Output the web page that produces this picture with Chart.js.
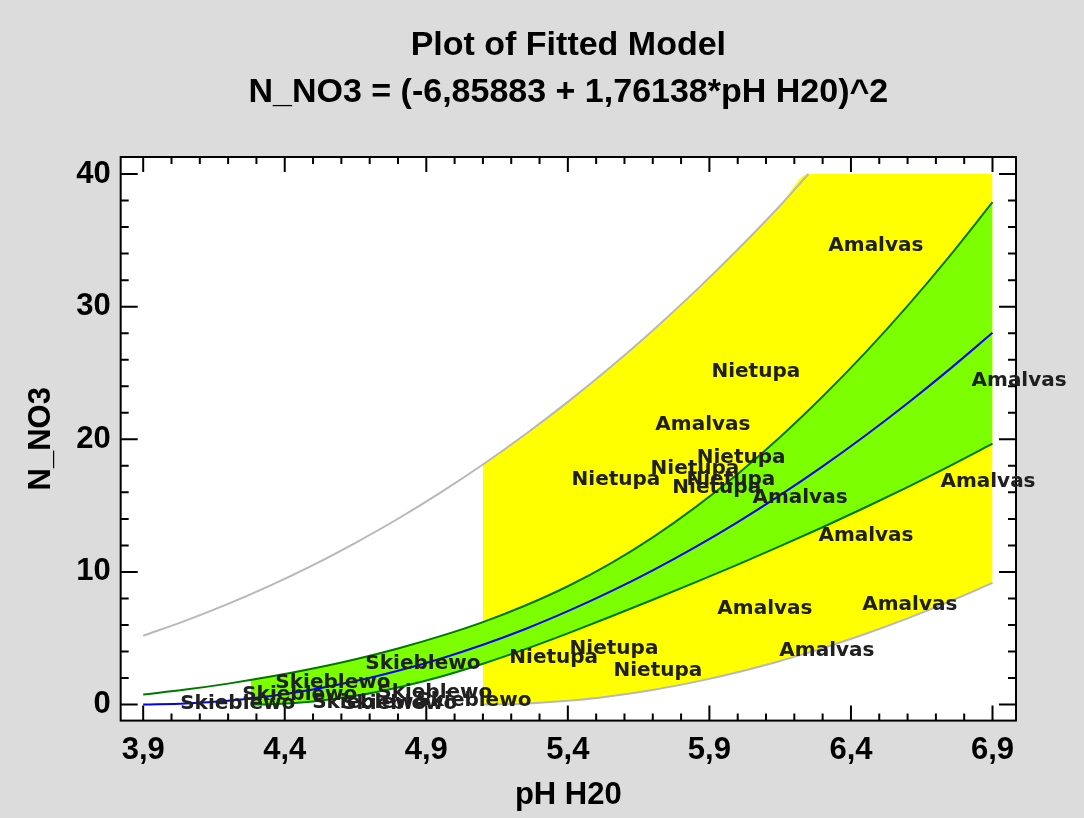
<!DOCTYPE html>
<html lang="en">
<head>
  <meta charset="utf-8">
  <title>Plot of Fitted Model</title>
  <script src="https://cdn.jsdelivr.net/npm/chart.js@4.4.1/dist/chart.umd.min.js"></script>
  <style>
    body { margin: 0; background: #dcdcdc; }
    canvas { display: block; }
  </style>
</head>
<body>
<canvas id="myChart" width="1084" height="818"></canvas>
<script>
// Titles and axis labels
let titleLines = ['Plot of Fitted Model', 'N_NO3 = (-6,85883 + 1,76138*pH H20)^2'];
let xTitle = 'pH H20';
let yTitle = 'N_NO3';

// Tick values and their labels
let xTickValues = [3.9, 4.4, 4.9, 5.4, 5.9, 6.4, 6.9];
let xTickLabels = ['3,9', '4,4', '4,9', '5,4', '5,9', '6,4', '6,9'];
let yTickValues = [0, 10, 20, 30, 40];
let yTickLabels = ['0', '10', '20', '30', '40'];

// Fitted line and upper confidence limit
let gridX = [3.9, 4.05, 4.2, 4.35, 4.5, 4.65, 4.8, 4.95, 5.1, 5.25, 5.4, 5.55, 5.7, 5.85, 6.0, 6.15, 6.3, 6.45, 6.6, 6.75, 6.9];
let fitY = [0.00, 0.08, 0.29, 0.65, 1.14, 1.77, 2.55, 3.46, 4.51, 5.70, 7.04, 8.51, 10.12, 11.87, 13.76, 15.79, 17.96, 20.27, 22.72, 25.31, 28.03];
let confUpperY = [0.76, 1.13, 1.58, 2.11, 2.72, 3.42, 4.23, 5.16, 6.22, 7.47, 8.92, 10.63, 12.61, 14.87, 17.39, 20.18, 23.23, 26.52, 30.06, 33.85, 37.88];

// Lower confidence limit, and the upper limit over the same span (green band)
let confLowerX = [4.28, 4.35, 4.5, 4.65, 4.8, 4.95, 5.1, 5.25, 5.4, 5.55, 5.7, 5.85, 6.0, 6.15, 6.3, 6.45, 6.6, 6.75, 6.9];
let confLowerY = [0.00, 0.02, 0.24, 0.66, 1.29, 2.10, 3.08, 4.18, 5.37, 6.62, 7.90, 9.21, 10.55, 11.94, 13.37, 14.86, 16.40, 18.00, 19.67];
let greenTopY = [1.85, 2.11, 2.72, 3.42, 4.23, 5.16, 6.22, 7.47, 8.92, 10.63, 12.61, 14.87, 17.39, 20.18, 23.23, 26.52, 30.06, 33.85, 37.88];

// Prediction limits (gray lines) and the yellow band
let predUpperX = [3.9, 4.05, 4.2, 4.35, 4.5, 4.65, 4.8, 4.95, 5.1, 5.25, 5.4, 5.55, 5.7, 5.85, 6.0, 6.15, 6.25];
let predUpperY = [5.19, 6.33, 7.59, 8.99, 10.52, 12.20, 14.01, 15.98, 18.10, 20.38, 22.82, 25.43, 28.21, 31.17, 34.31, 37.63, 40.0];
let predLowerX = [5.1, 5.25, 5.4, 5.55, 5.7, 5.85, 6.0, 6.15, 6.25, 6.3, 6.45, 6.6, 6.75, 6.9];
let predLowerY = [0.00, 0.07, 0.28, 0.63, 1.10, 1.71, 2.44, 3.29, 3.92, 4.25, 5.32, 6.50, 7.78, 9.17];
let yellowTopY = [18.10, 20.38, 22.82, 25.43, 28.21, 31.17, 34.31, 37.63, 40, 40, 40, 40, 40, 40];

// Observations, drawn as their site names
let pointNames = [
    'Amalvas', 'Amalvas', 'Amalvas', 'Amalvas', 'Amalvas', 'Amalvas', 'Amalvas', 'Amalvas', 'Amalvas',
    'Nietupa', 'Nietupa', 'Nietupa', 'Nietupa', 'Nietupa', 'Nietupa', 'Nietupa', 'Nietupa', 'Nietupa',
    'Skieblewo', 'Skieblewo', 'Skieblewo', 'Skieblewo', 'Skieblewo', 'Skieblewo', 'Skieblewo', 'Skieblewo'
];
let pointX = [
    6.488, 6.994, 5.877, 6.220, 6.884, 6.453, 6.096, 6.608, 6.315,
    6.064, 6.012, 5.849, 5.570, 5.976, 5.926, 5.563, 5.350, 5.718,
    4.888, 4.570, 4.234, 4.453, 4.930, 5.068, 4.700, 4.806
];
let pointY = [
    34.57, 24.40, 21.06, 15.62, 16.83, 12.75, 7.25, 7.55, 4.08,
    25.10, 18.64, 17.81, 16.91, 16.91, 16.38, 4.23, 3.55, 2.57,
    3.09, 1.66, 0.08, 0.75, 0.91, 0.30, 0.15, 0.08
];

const toPoints = (xs, ys) => xs.map((x, i) => ({x: x, y: ys[i]}));

const lineSet = (xs, ys, color, width, order, fill, fillColor) => ({
    data: toPoints(xs, ys),
    borderColor: color,
    borderWidth: width,
    backgroundColor: fillColor || 'transparent',
    fill: fill,
    order: order,
    pointRadius: 0,
    cubicInterpolationMode: 'monotone'
});

// Gray background, white plot area
let backgroundPlugin = {
    id: 'background',
    beforeDraw: (chart) => {
        let ctx = chart.ctx;
        let a = chart.chartArea;
        ctx.save();
        ctx.fillStyle = '#dcdcdc';
        ctx.fillRect(0, 0, chart.width, chart.height);
        ctx.fillStyle = '#ffffff';
        ctx.fillRect(a.left, a.top, a.right - a.left, a.bottom - a.top);
        ctx.restore();
    }
};

// Frame with inward tick marks on all four sides, title and point labels
let framePlugin = {
    id: 'frame',
    afterDatasetsDraw: (chart) => {
        let ctx = chart.ctx;
        let a = chart.chartArea;
        let xs = chart.scales.x;
        let ys = chart.scales.y;
        ctx.save();
        ctx.strokeStyle = '#000000';
        ctx.lineWidth = 2;
        ctx.strokeRect(a.left, a.top, a.right - a.left, a.bottom - a.top);
        ctx.beginPath();
        for (let i = 0; i <= 30; i++) {
            let px = xs.getPixelForValue(3.9 + i * 0.1);
            let len = (i % 5 === 0) ? 15 : 7;
            ctx.moveTo(px, a.bottom); ctx.lineTo(px, a.bottom - len);
            ctx.moveTo(px, a.top); ctx.lineTo(px, a.top + len);
        }
        for (let i = 0; i <= 20; i++) {
            let py = ys.getPixelForValue(i * 2);
            let len = (i % 5 === 0) ? 17 : 8;
            ctx.moveTo(a.left, py); ctx.lineTo(a.left + len, py);
            ctx.moveTo(a.right, py); ctx.lineTo(a.right - len, py);
        }
        ctx.stroke();

        // site names at the observations
        ctx.font = 'bold 20px "DejaVu Sans"';
        ctx.fillStyle = '#202020';
        ctx.textAlign = 'center';
        ctx.textBaseline = 'middle';
        for (let i = 0; i < pointNames.length; i++) {
            ctx.fillText(pointNames[i], xs.getPixelForValue(pointX[i]), ys.getPixelForValue(pointY[i]));
        }

        // two-line title over the plot
        let cx = (a.left + a.right) / 2;
        ctx.fillStyle = '#000000';
        ctx.font = 'bold 34px "Liberation Sans"';
        ctx.fillText(titleLines[0], cx, 46);
        ctx.fillText(titleLines[1], cx, 93);
        ctx.restore();
    }
};

let tickFont = {family: '"Liberation Sans"', size: 31, weight: 'bold'};

let config = {
    type: 'line',
    data: {
        datasets: [
            lineSet(predLowerX, yellowTopY, 'transparent', 1, 10, 1, '#ffff00'),
            lineSet(predLowerX, predLowerY, 'transparent', 1, 10, false),
            lineSet(predUpperX, predUpperY, '#b8b8b8', 2, 9, false),
            lineSet(predLowerX, predLowerY, '#b8b8b8', 2, 9, false),
            lineSet(confLowerX, greenTopY, 'transparent', 1, 8, 5, '#7cff00'),
            lineSet(confLowerX, confLowerY, 'transparent', 1, 8, false),
            lineSet(gridX, confUpperY, '#007800', 2, 7, false),
            lineSet(confLowerX, confLowerY, '#007800', 2, 7, false),
            lineSet(gridX, fitY, '#0000ff', 2, 6, false)
        ]
    },
    options: {
        responsive: false,
        animation: false,
        layout: {padding: {top: 157, left: 10, right: 68, bottom: 4}},
        plugins: {
            legend: {display: false},
            tooltip: {enabled: false},
            title: {display: false}
        },
        scales: {
            x: {
                type: 'linear',
                min: 3.8205,
                max: 6.983,
                afterBuildTicks: (scale) => { scale.ticks = xTickValues.map(v => ({value: v})); },
                ticks: {
                    font: tickFont,
                    color: '#000000',
                    padding: 11,
                    maxRotation: 0,
                    callback: (value, index) => xTickLabels[index]
                },
                grid: {display: false, drawTicks: false, tickLength: 0},
                border: {display: false},
                title: {display: true, text: xTitle, font: tickFont, color: '#000000', padding: {top: -3, bottom: 0}}
            },
            y: {
                type: 'linear',
                min: -1.208,
                max: 41.283,
                afterBuildTicks: (scale) => { scale.ticks = yTickValues.map(v => ({value: v})); },
                ticks: {
                    font: tickFont,
                    color: '#000000',
                    padding: 10,
                    callback: (value, index) => yTickLabels[index]
                },
                grid: {display: false, drawTicks: false, tickLength: 0},
                border: {display: false},
                title: {display: true, text: yTitle, font: tickFont, color: '#000000', padding: {top: 13, bottom: 6}}
            }
        }
    },
    plugins: [backgroundPlugin, framePlugin]
};

let ctx = document.getElementById('myChart').getContext('2d');
let myChart = new Chart(ctx, config);
</script>
</body>
</html>
